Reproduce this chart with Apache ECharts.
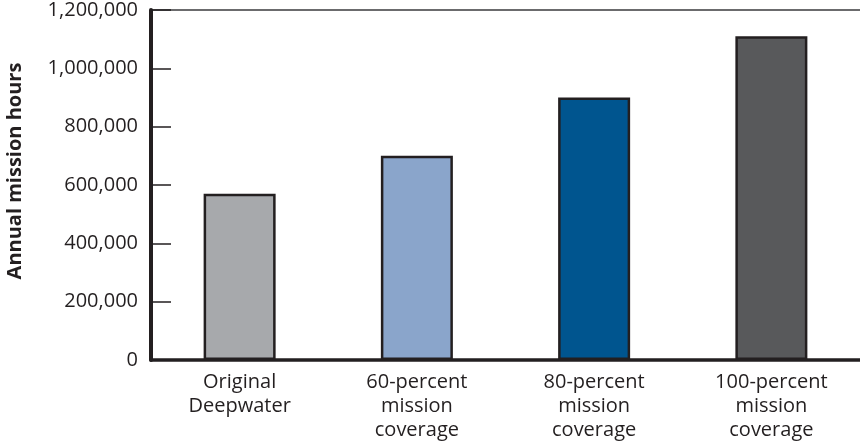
<!DOCTYPE html>
<html>
<head>
<meta charset="utf-8">
<script src="https://cdn.jsdelivr.net/npm/echarts@6/dist/echarts.min.js"></script>
<style>
  html, body { margin: 0; padding: 0; background: #ffffff; }
  #chart { width: 860px; height: 447px; }
</style>
</head>
<body>
<div id="chart"></div>
<script>
// Annual mission hours under each coverage option
const categories = [
  'Original\nDeepwater',
  '60-percent\nmission\ncoverage',
  '80-percent\nmission\ncoverage',
  '100-percent\nmission\ncoverage'
];
const missionHours = [570000, 700000, 900000, 1110000];
const barColors = ['#a7a9ac', '#8aa5cb', '#00558f', '#58595b'];
const yTicks = { min: 0, max: 1200000, interval: 200000 };

const ink = '#231f20';
const font = '"Open Sans", "Noto Sans", sans-serif';

const chart = echarts.init(document.getElementById('chart'), null, { renderer: 'canvas' });

// only the top gridline (at the axis max) is drawn
const tickCount = yTicks.max / yTicks.interval + 1;
const splitColors = Array.from({ length: tickCount }, (_, i) => (i === tickCount - 1 ? '#3a3a3c' : 'rgba(0,0,0,0)'));

chart.setOption({
  animation: false,
  backgroundColor: '#ffffff',
  grid: { left: 151, right: 0, top: 10, bottom: 87, containLabel: false, outerBoundsMode: 'none' },
  xAxis: {
    type: 'category',
    data: categories,
    axisLine: { show: true, lineStyle: { color: ink, width: 3.5 } },
    axisTick: { show: false },
    axisLabel: {
      color: ink,
      fontFamily: font,
      fontSize: 20,
      lineHeight: 24,
      margin: 10,
      interval: 0
    }
  },
  yAxis: {
    type: 'value',
    min: yTicks.min,
    max: yTicks.max,
    interval: yTicks.interval,
    name: 'Annual mission hours',
    nameLocation: 'middle',
    nameRotate: 90,
    nameGap: 126,
    nameTextStyle: {
      color: ink,
      fontFamily: font,
      fontSize: 20,
      fontWeight: 'bold',
      padding: [0, 0, 0, 28]
    },
    axisLine: { show: true, lineStyle: { color: ink, width: 4 } },
    axisTick: { show: true, inside: true, length: 20, lineStyle: { color: '#231f20', width: 1.5 } },
    splitLine: { show: true, lineStyle: { color: splitColors, width: 1.5 } },
    axisLabel: {
      color: ink,
      fontFamily: font,
      fontSize: 20,
      margin: 13,
      formatter: v => v.toLocaleString('en-US')
    }
  },
  series: [{
    type: 'bar',
    data: missionHours.map((v, i) => ({
      value: v,
      itemStyle: { color: barColors[i] }
    })),
    barWidth: 72,
    itemStyle: { borderColor: ink, borderWidth: 2.5 }
  }]
});
</script>
</body>
</html>
